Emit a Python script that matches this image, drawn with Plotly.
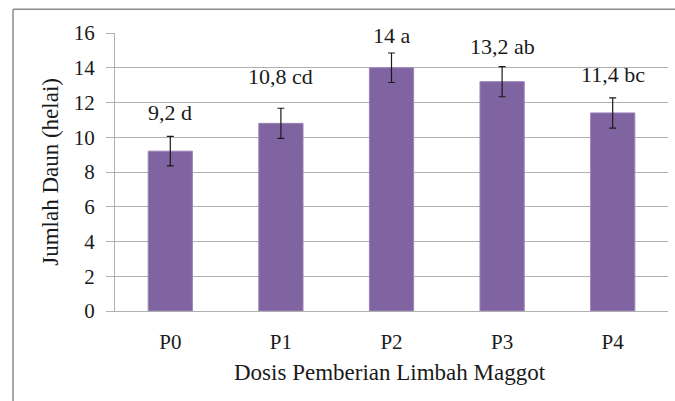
import plotly.graph_objects as go

categories = ["P0", "P1", "P2", "P3", "P4"]
values = [9.2, 10.8, 14.0, 13.2, 11.4]
errors = [0.85, 0.87, 0.85, 0.87, 0.87]
letters = ["d", "cd", "a", "ab", "bc"]
y_ticks = [0, 2, 4, 6, 8, 10, 12, 14, 16]

# label heights (data units, layout only)
label_y = [11.44, 13.47, 15.83, 15.22, 13.62]

FONT = "Liberation Serif"

W, H = 675, 401
L, R, T, B = 115, 7, 32.7, 90.3
pw, ph = W - L - R, H - T - B

fig = go.Figure()
fig.add_trace(go.Bar(
    x=categories, y=values,
    marker=dict(color="#8064A2", line=dict(color="#9a86b8", width=1)),
    width=0.4,
    error_y=dict(type="data", array=errors, visible=True, color="#1a1a1a",
                 thickness=1.2, width=3.5),
    hoverinfo="skip",
))

annotations = []
for c, v, l, ly in zip(categories, values, letters, label_y):
    txt = (f"{v:g}".replace(".", ",")) + " " + l
    annotations.append(dict(x=c, y=ly, xref="x", yref="y", text=txt,
                            showarrow=False, yanchor="middle",
                            font=dict(family=FONT, size=22, color="#1a1a1a")))

def px2paperx(px):
    return (px - L) / pw

def py2papery(py):
    return (H - B - py) / ph

annotations.append(dict(x=px2paperx(390), y=py2papery(372), xref="paper", yref="paper",
                        text="Dosis Pemberian Limbah Maggot", showarrow=False,
                        font=dict(family=FONT, size=23, color="#1a1a1a"),
                        xanchor="center", yanchor="middle"))
annotations.append(dict(x=px2paperx(51), y=py2papery(171.5), xref="paper", yref="paper",
                        text="Jumlah Daun (helai)", showarrow=False, textangle=-90,
                        font=dict(family=FONT, size=23, color="#1a1a1a"),
                        xanchor="center", yanchor="middle"))

shapes = [
    dict(type="line", xref="paper", yref="paper",
         x0=px2paperx(13), x1=px2paperx(13), y0=py2papery(9), y1=py2papery(402),
         line=dict(color="#8c8c8c", width=1.5)),
    dict(type="line", xref="paper", yref="paper",
         x0=px2paperx(13), x1=px2paperx(676), y0=py2papery(9), y1=py2papery(9),
         line=dict(color="#8c8c8c", width=1.5)),
]

fig.update_layout(
    width=W, height=H,
    margin=dict(l=L, r=R, t=T, b=B),
    paper_bgcolor="white", plot_bgcolor="white",
    showlegend=False,
    annotations=annotations,
    shapes=shapes,
    xaxis=dict(
        showgrid=False, showline=True, linecolor="#b0b0b0", linewidth=1,
        ticks="", tickfont=dict(family=FONT, size=21, color="#1a1a1a"),
        ticklabelstandoff=12,
    ),
    yaxis=dict(
        range=[0, 16], tickvals=y_ticks,
        showgrid=True, gridcolor="#b0b0b0", gridwidth=1,
        showline=True, linecolor="#b0b0b0", linewidth=1,
        ticks="outside", ticklen=8, tickcolor="#b0b0b0",
        tickfont=dict(family=FONT, size=21, color="#1a1a1a"),
        ticklabelstandoff=7,
        zeroline=False,
    ),
)

fig.write_html("out.html", config={"displayModeBar": False},
               post_script="document.body.style.margin='0px';document.body.style.overflow='hidden';")
